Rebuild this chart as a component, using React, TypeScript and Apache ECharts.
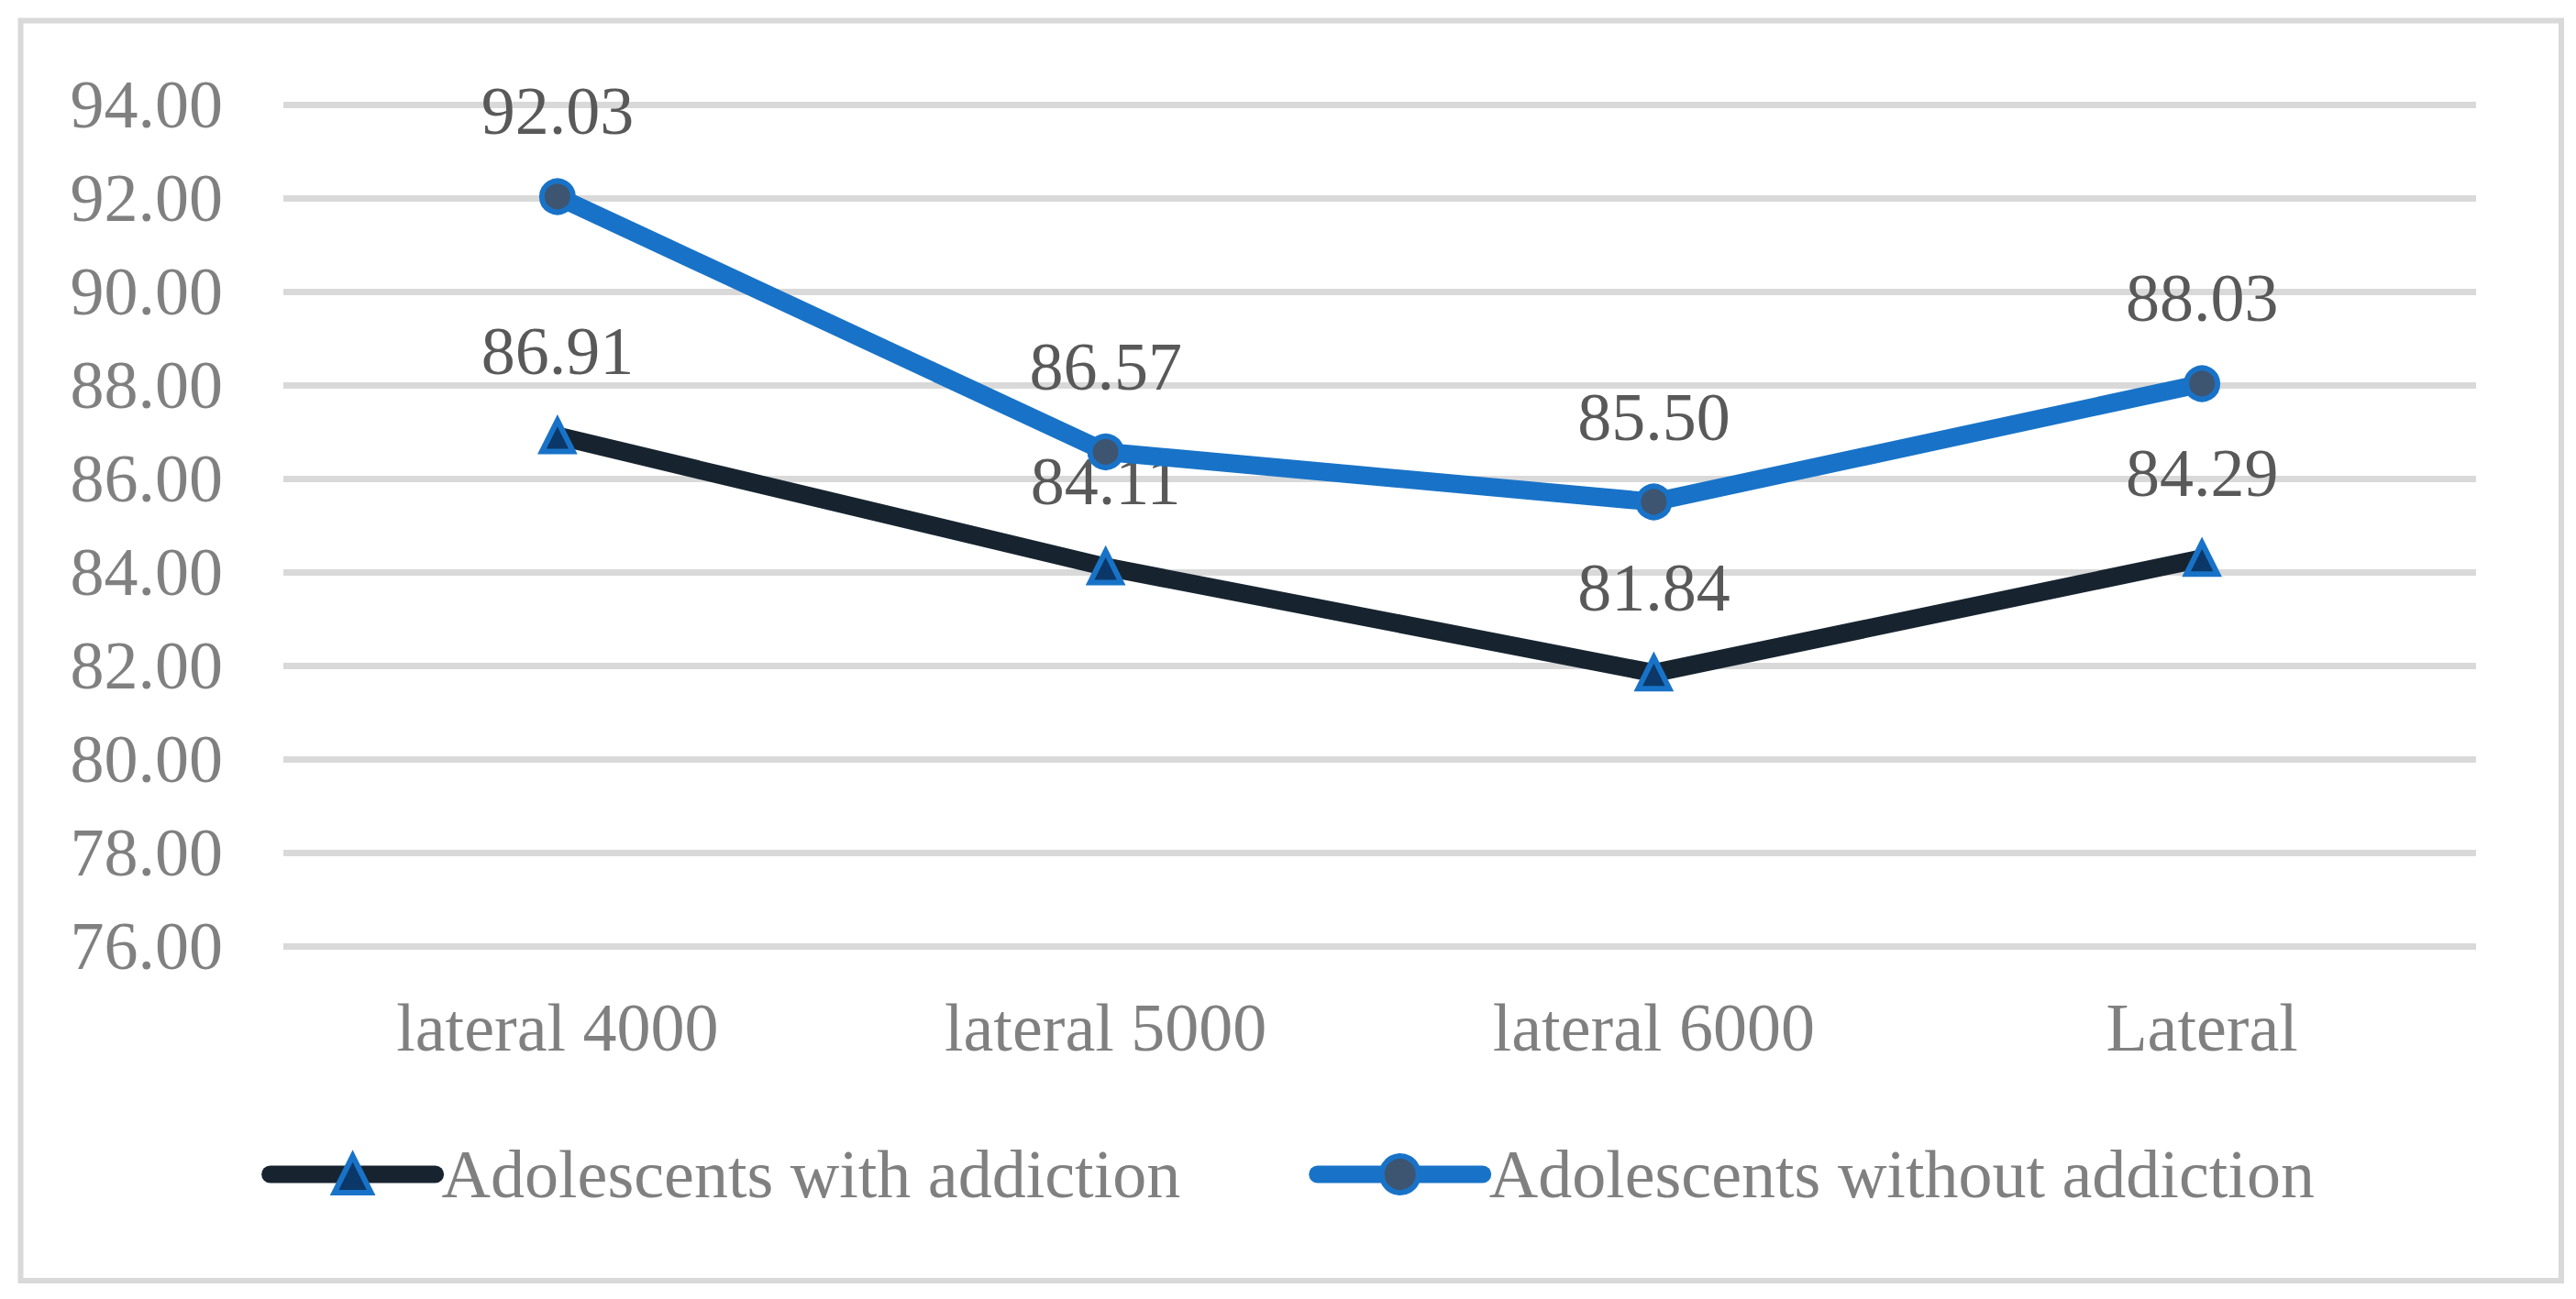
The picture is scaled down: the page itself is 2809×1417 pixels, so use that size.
import React, { useEffect, useRef } from "react";
import * as echarts from "echarts";

const categories = ["lateral 4000", "lateral 5000", "lateral 6000", "Lateral"];
const withAddiction = [86.91, 84.11, 81.84, 84.29];
const withoutAddiction = [92.03, 86.57, 85.5, 88.03];
const seriesNames = ["Adolescents with addiction", "Adolescents without addiction"];
const yMin = 76;
const yMax = 94;
const yStep = 2;

const FONT = "'Liberation Serif', 'Times New Roman', serif";

export default function App() {
  const ref = useRef<HTMLDivElement>(null);
  useEffect(() => {
    if (!ref.current) return;
    const chart = echarts.init(ref.current, undefined, { renderer: "svg" });
    const label = {
      show: true,
      position: "top" as const,
      distance: 36,
      fontFamily: FONT,
      fontSize: 74,
      lineHeight: 74,
      color: "#595959",
      formatter: (p: any) => Number(p.value).toFixed(2),
    };
    chart.setOption({
      animation: false,
      backgroundColor: "#ffffff",
      textStyle: { fontFamily: FONT },
      graphic: [
        {
          type: "rect",
          shape: { x: 22.5, y: 22.5, width: 2770.5, height: 1374.5 },
          style: { fill: "none", stroke: "#d9d9d9", lineWidth: 6 },
          silent: true,
        },
      ],
      grid: { left: 309, right: 109, top: 114, bottom: 385, containLabel: false },
      legend: {
        left: "center",
        top: 1244,
        padding: 0,
        itemWidth: 180,
        itemHeight: 50,
        itemGap: 140,
        lineStyle: { width: 19, cap: "round" },
        itemStyle: { borderWidth: 6 },
        textStyle: { fontFamily: FONT, fontSize: 74, lineHeight: 74, color: "#808080", padding: [0, 0, 0, 2] },
        data: seriesNames,
      },
      xAxis: {
        type: "category",
        data: categories,
        axisLine: { show: false },
        axisTick: { show: false },
        axisLabel: { fontFamily: FONT, fontSize: 74, lineHeight: 74, color: "#808080", margin: 52 },
      },
      yAxis: {
        type: "value",
        min: yMin,
        max: yMax,
        interval: yStep,
        axisLine: { show: false },
        axisTick: { show: false },
        splitLine: { lineStyle: { color: "#d9d9d9", width: 7 } },
        axisLabel: {
          fontFamily: FONT,
          fontSize: 74,
          color: "#808080",
          margin: 66,
          formatter: (v: number) => v.toFixed(2),
        },
      },
      series: [
        {
          name: seriesNames[0],
          type: "line",
          data: withAddiction,
          z: 2,
          symbol: "triangle",
          symbolSize: 34,
          lineStyle: { color: "#172430", width: 20, cap: "round", join: "round" },
          itemStyle: { color: "#0b3868", borderColor: "#1873C8", borderWidth: 6 },
          label,
        },
        {
          name: seriesNames[1],
          type: "line",
          data: withoutAddiction,
          z: 3,
          symbol: "circle",
          symbolSize: 34,
          lineStyle: { color: "#1873C8", width: 20, cap: "round", join: "round" },
          itemStyle: { color: "#3d5571", borderColor: "#1873C8", borderWidth: 6 },
          label,
        },
      ],
    });
    return () => chart.dispose();
  }, []);
  return (
    <div
      ref={ref}
      style={{ position: "fixed", left: 0, top: 0, width: 2809, height: 1417, background: "#fff" }}
    />
  );
}
